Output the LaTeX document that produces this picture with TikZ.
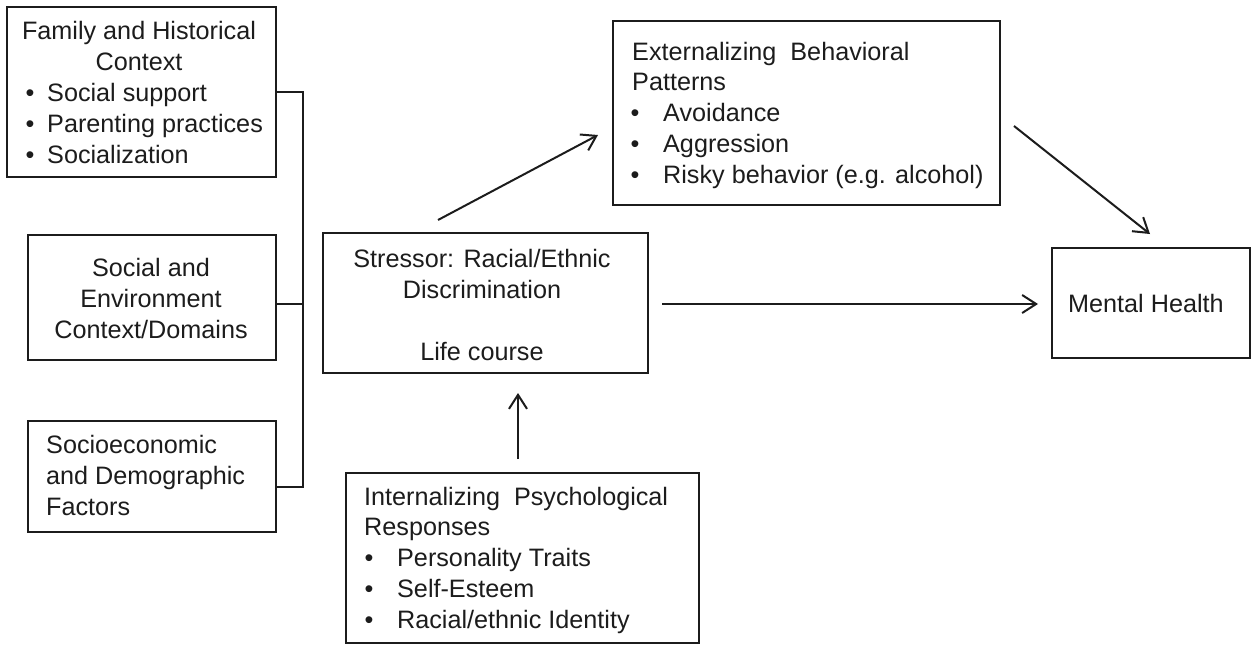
\documentclass[tikz,border=0pt]{standalone}
\usepackage{fontspec}
\setmainfont{Liberation Sans}
\usetikzlibrary{arrows.meta}
\definecolor{ink}{RGB}{28,28,28}
\begin{document}
\begin{tikzpicture}[x=1pt,y=-1pt,
  box/.style={draw=ink,line width=2.2pt,inner sep=0pt,minimum width=#1},
  txt/.style={inner sep=0pt,text=ink,font=\fontsize{25.2}{31}\selectfont},
  tl/.style={txt,anchor=base west},
  tc/.style={txt,anchor=base},
  arr/.style={draw=ink,line width=2pt,-{Straight Barb[length=14pt,width=18pt,line width=2pt]}},
  link/.style={draw=ink,line width=2pt}]
\useasboundingbox (0,0) rectangle (1259,646);
% boxes
\node[box=269,minimum height=170] (fam) at (141.5,92) {};
\node[box=248,minimum height=125] (soc) at (152,297.5) {};
\node[box=248,minimum height=111] (ses) at (152,476.5) {};
\node[box=325,minimum height=140] (str) at (485.5,303) {};
\node[box=387,minimum height=184] (ext) at (806.5,113) {};
\node[box=353,minimum height=170] (int) at (522.5,558) {};
\node[box=198,minimum height=110] (mh) at (1151,303) {};
% family text
\node[tc] (f1) at (139,39) {Family and Historical};
\node[tc] (f2) at (139,70) {Context};
\node[tl] (f3) at (25.5,101) {\makebox[21.5pt][l]{•}Social support};
\node[tl] (f4) at (25.5,132) {\makebox[21.5pt][l]{•}Parenting practices};
\node[tl] (f5) at (25.5,163) {\makebox[21.5pt][l]{•}Socialization};
% social text
\node[tc] (s1) at (151,276) {Social and};
\node[tc] (s2) at (151,307) {Environment};
\node[tc] (s3) at (151,338) {Context/Domains};
% socioeconomic text
\node[tl] (e1) at (46,453) {Socioeconomic};
\node[tl] (e2) at (46,484) {and Demographic};
\node[tl] (e3) at (46,515) {Factors};
% stressor text
\node[tc] (r1) at (482,267) {Stressor: Racial/Ethnic};
\node[tc] (r2) at (482,298) {Discrimination};
\node[tc] (r3) at (482,360) {Life course};
% external text
\node[tl] (x1) at (632,60) {Externalizing\ \ Behavioral};
\node[tl] (x2) at (632,90) {Patterns};
\node[tl] (x3) at (630.5,121) {\makebox[32.5pt][l]{•}Avoidance};
\node[tl] (x4) at (630.5,152) {\makebox[32.5pt][l]{•}Aggression};
\node[tl] (x5) at (630.5,183) {\makebox[32.5pt][l]{•}Risky behavior (e.g. alcohol)};
% internal text
\node[tl] (i1) at (364,505) {Internalizing\ \ Psychological};
\node[tl] (i2) at (364,535) {Responses};
\node[tl] (i3) at (364.5,566) {\makebox[32.5pt][l]{•}Personality Traits};
\node[tl] (i4) at (364.5,597) {\makebox[32.5pt][l]{•}Self-Esteem};
\node[tl] (i5) at (364.5,628) {\makebox[32.5pt][l]{•}Racial/ethnic Identity};
% mental health text
\node[tl] (m1) at (1068,312) {Mental Health};
% bracket
\coordinate (bt) at (303,92);
\coordinate (bm) at (303,304);
\coordinate (bb) at (303,487);
\draw[link] (fam.east) -- (bt) -- (bb) -- (ses.east |- bb);
\draw[link] (soc.east |- bm) -- (bm);
% arrows
\coordinate (a1s) at (438,220);
\coordinate (a1e) at (598,135);
\coordinate (a2s) at (662,304);
\coordinate (a2e) at (1038,304);
\coordinate (a3s) at (1014,126);
\coordinate (a3e) at (1150,234);
\coordinate (a4s) at (518,459);
\coordinate (a4e) at (518,393);
\draw[arr] (a1s) -- (a1e);
\draw[arr] (a2s) -- (a2e);
\draw[arr] (a3s) -- (a3e);
\draw[arr] (a4s) -- (a4e);
\end{tikzpicture}
\end{document}
